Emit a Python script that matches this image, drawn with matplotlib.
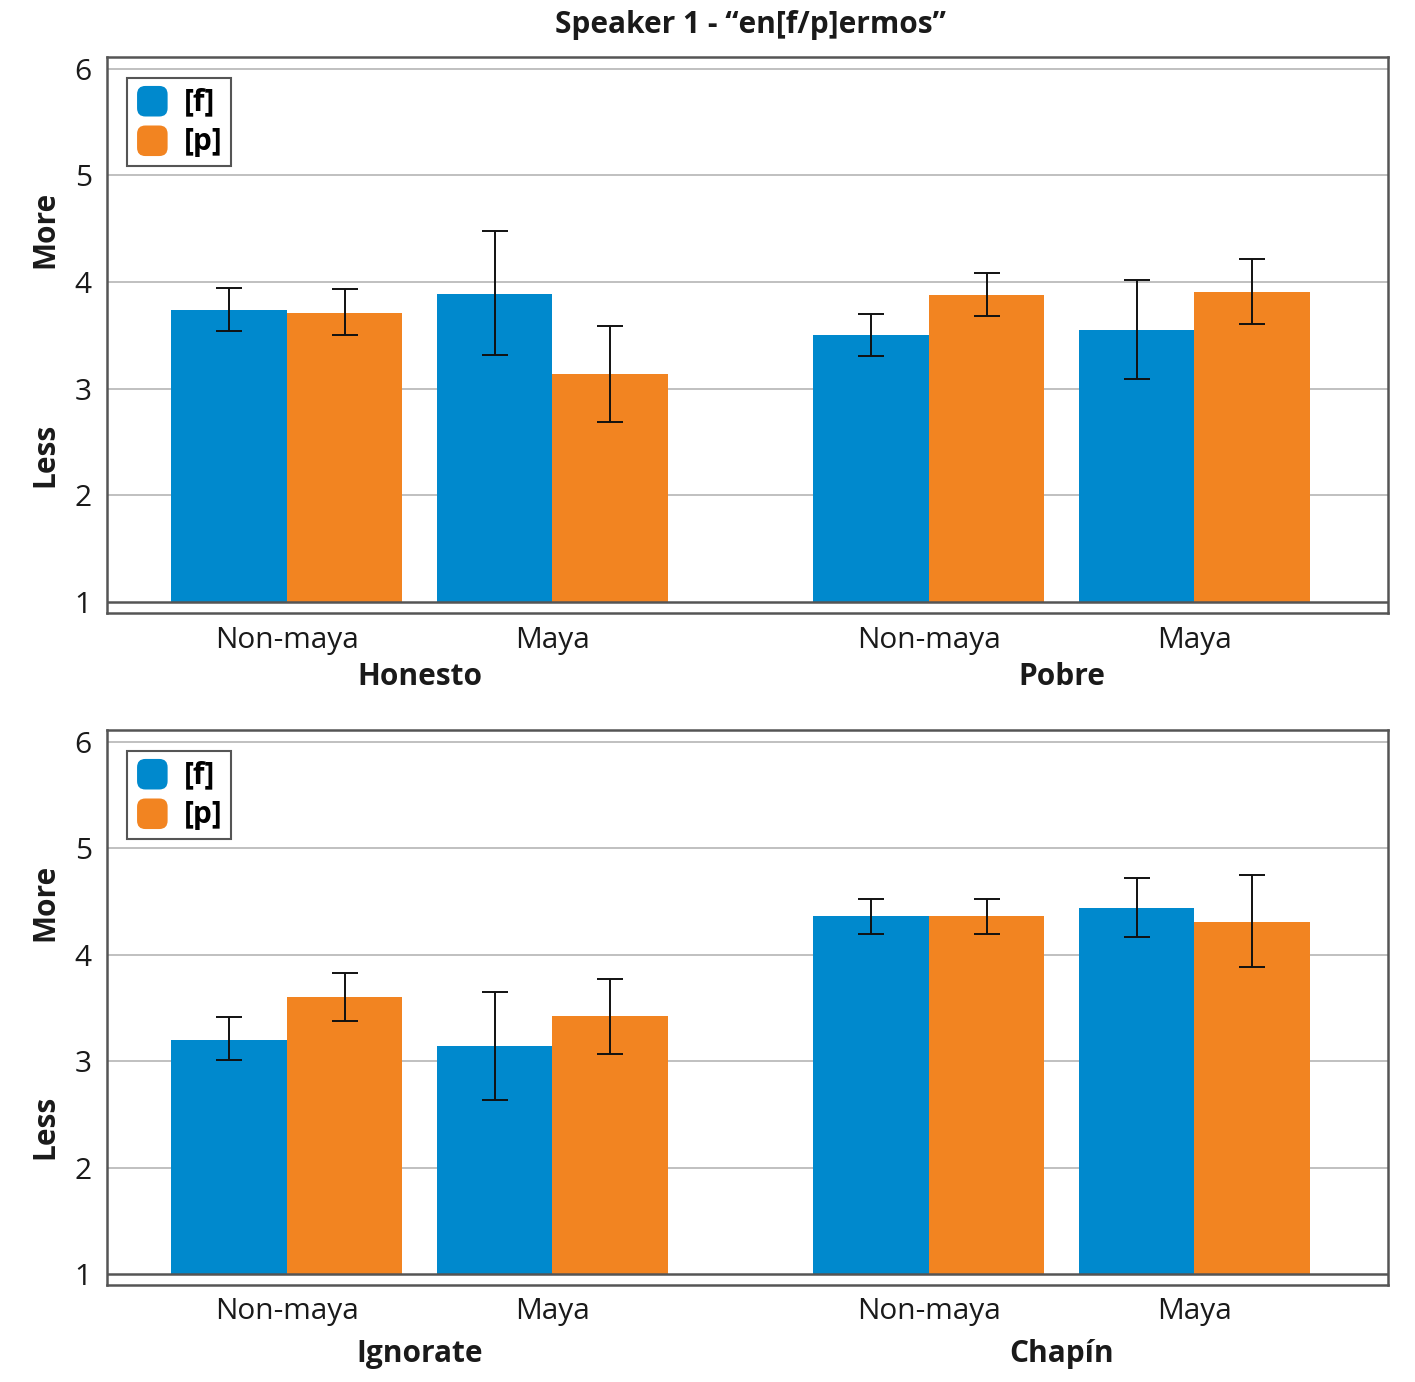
import numpy as np
import matplotlib.pyplot as plt
from matplotlib.patches import FancyBboxPatch
from matplotlib.legend_handler import HandlerPatch
import matplotlib.patches as mpatches
import matplotlib.transforms as mtransforms

plt.rcParams['font.family'] = ['Open Sans', 'DejaVu Sans']

title = u'Speaker 1 - \u201cen[f/p]ermos\u201d'
groups_top = ['Honesto', 'Pobre']
groups_bottom = ['Ignorate', 'Chap\u00edn']
subgroups = ['Non-maya', 'Maya']
series = ['[f]', '[p]']
colors = ['#0089cd', '#f28421']

# order: group1 Non-maya, group1 Maya, group2 Non-maya, group2 Maya
top_f = [3.74, 3.89, 3.505, 3.55]
top_f_lo = [3.54, 3.32, 3.31, 3.09]
top_f_hi = [3.945, 4.48, 3.70, 4.02]
top_p = [3.71, 3.14, 3.88, 3.91]
top_p_lo = [3.50, 2.69, 3.68, 3.61]
top_p_hi = [3.93, 3.59, 4.08, 4.22]

bot_f = [3.20, 3.14, 4.36, 4.44]
bot_f_lo = [3.01, 2.63, 4.19, 4.17]
bot_f_hi = [3.41, 3.65, 4.52, 4.72]
bot_p = [3.60, 3.42, 4.36, 4.31]
bot_p_lo = [3.38, 3.07, 4.19, 3.88]
bot_p_hi = [3.83, 3.77, 4.52, 4.75]

FS = 21.5
TXT = '#1a1a1a'


class RoundHandler(HandlerPatch):
    def create_artists(self, legend, orig_handle, xdescent, ydescent,
                       width, height, fontsize, trans):
        s = 22
        p = FancyBboxPatch((-xdescent + (width - s) / 2, -ydescent + (height - s) / 2 - 1), s, s,
                           boxstyle='round,pad=0,rounding_size=6',
                           facecolor=orig_handle.get_facecolor(), edgecolor='none',
                           transform=trans)
        return [p]


def panel(ax, groups, f, flo, fhi, p, plo, phi, gy):
    centers = np.array([0, 2.3, 5.56, 7.86])
    w = 1.0
    f = np.array(f); p = np.array(p)
    ax.bar(centers - w / 2, f - 1, w, bottom=1, color=colors[0], zorder=2)
    ax.bar(centers + w / 2, p - 1, w, bottom=1, color=colors[1], zorder=2)
    ax.errorbar(centers - w / 2, f, yerr=[f - np.array(flo), np.array(fhi) - f],
                fmt='none', ecolor='#111111', elinewidth=1.4, capsize=9.5, capthick=1.4, zorder=3)
    ax.errorbar(centers + w / 2, p, yerr=[p - np.array(plo), np.array(phi) - p],
                fmt='none', ecolor='#111111', elinewidth=1.4, capsize=9.5, capthick=1.4, zorder=3)
    ax.set_xlim(-1.558, 9.533)
    ax.set_ylim(0.897, 6.11)
    ax.set_yticks([1, 2, 3, 4, 5, 6])
    for v in [2, 3, 4, 5, 6]:
        ax.axhline(v, color='#bbbbbb', lw=1.3, zorder=1)
    ax.axhline(1, color='#555555', lw=1.8, zorder=4)
    ax.tick_params(axis='y', length=0, labelsize=FS, pad=11, colors=TXT)
    ax.set_xticks(centers)
    ax.set_xticklabels(subgroups * 2)
    ax.tick_params(axis='x', length=0, labelsize=FS, pad=9, colors=TXT)
    for sp in ax.spines.values():
        sp.set_color('#555555')
        sp.set_linewidth(1.8)
    for i, g in enumerate(groups):
        gx = (centers[2 * i] + centers[2 * i + 1]) / 2
        ax.text(gx, gy, g, transform=mtransforms.blended_transform_factory(ax.transData, ax.transAxes),
                ha='center', va='center', fontsize=FS, fontweight='bold', color=TXT)
    tr = mtransforms.blended_transform_factory(ax.transAxes, ax.transData)
    ax.text(-0.048, 4.49, 'More', transform=tr, rotation=90, ha='center', va='center',
            fontsize=FS, fontweight='bold', color=TXT)
    ax.text(-0.048, 2.38, 'Less', transform=tr, rotation=90, ha='center', va='center',
            fontsize=FS, fontweight='bold', color=TXT)
    handles = [mpatches.Patch(facecolor=colors[0], label=series[0]),
               mpatches.Patch(facecolor=colors[1], label=series[1])]
    leg = ax.legend(handles=handles, loc='upper left', bbox_to_anchor=(0.0156, 0.963),
                    handler_map={mpatches.Patch: RoundHandler()},
                    prop={'size': FS, 'weight': 'bold'}, fancybox=False,
                    edgecolor='#555555', framealpha=1, handlelength=1.1, handleheight=1.0,
                    handletextpad=0.5, borderpad=0.3, labelspacing=0.3, borderaxespad=0)
    leg.get_frame().set_linewidth(1.5)
    leg.set_zorder(5)


fig = plt.figure(figsize=(14.15, 13.82), dpi=100)
ax1 = fig.add_axes([0.0756, 0.5564, 0.905, 0.4024])
ax2 = fig.add_axes([0.0756, 0.0702, 0.905, 0.4016])
panel(ax1, groups_top, top_f, top_f_lo, top_f_hi, top_p, top_p_lo, top_p_hi, -0.115)
panel(ax2, groups_bottom, bot_f, bot_f_lo, bot_f_hi, bot_p, bot_p_lo, bot_p_hi, -0.125)
fig.text(0.53, 0.982, title, ha='center', va='center', fontsize=FS, fontweight='bold', color=TXT)

fig.savefig('out.png', dpi=100)
